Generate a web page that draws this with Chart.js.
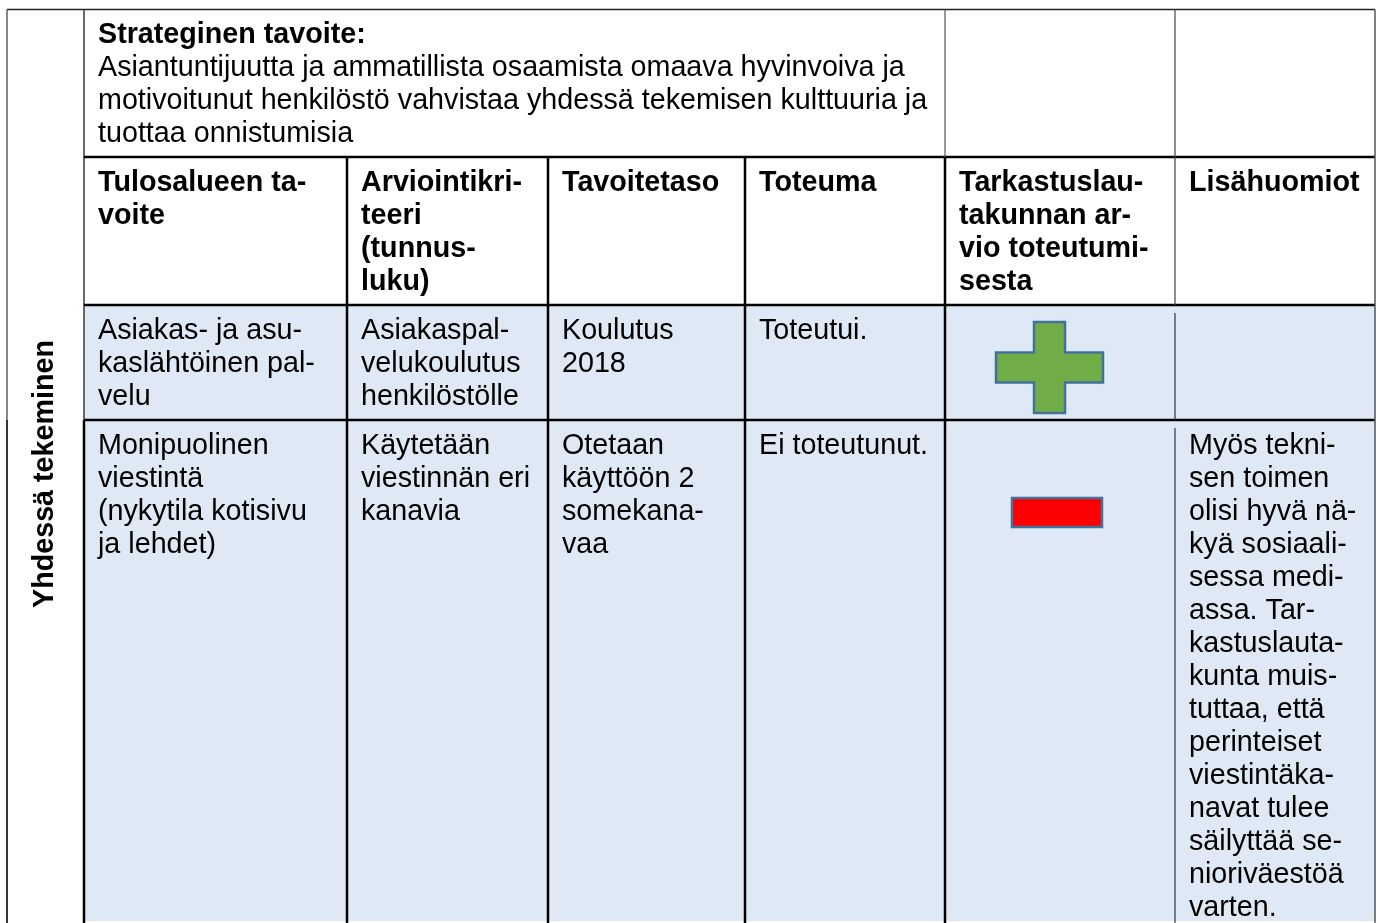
<!DOCTYPE html>
<html>
<head>
<meta charset="utf-8">
<script src="https://cdn.jsdelivr.net/npm/chart.js@4/dist/chart.umd.min.js"></script>
<style>
  html, body { margin: 0; padding: 0; background: #ffffff; }
  #c { display: block; }
</style>
</head>
<body>
<canvas id="c" width="1382" height="923"></canvas>
<script>
// ---------- DATA (text content of the table) ----------
const sideLabel = 'Yhdessä tekeminen';
const strategyHeading = 'Strateginen tavoite:';
const strategyLines = [
  'Asiantuntijuutta ja ammatillista osaamista omaava hyvinvoiva ja',
  'motivoitunut henkilöstö vahvistaa yhdessä tekemisen kulttuuria ja',
  'tuottaa onnistumisia'
];
const columnHeaders = [
  ['Tulosalueen ta-', 'voite'],
  ['Arviointikri-', 'teeri', '(tunnus-', 'luku)'],
  ['Tavoitetaso'],
  ['Toteuma'],
  ['Tarkastuslau-', 'takunnan ar-', 'vio toteutumi-', 'sesta'],
  ['Lisähuomiot']
];
const goals = [
  ['Asiakas- ja asu-', 'kaslähtöinen pal-', 'velu'],
  ['Monipuolinen', 'viestintä', '(nykytila kotisivu', 'ja lehdet)']
];
const criteria = [
  ['Asiakaspal-', 'velukoulutus', 'henkilöstölle'],
  ['Käytetään', 'viestinnän eri', 'kanavia']
];
const targets = [
  ['Koulutus', '2018'],
  ['Otetaan', 'käyttöön 2', 'somekana-', 'vaa']
];
const outcomes = [
  ['Toteutui.'],
  ['Ei toteutunut.']
];
const ratings = ['+', '-'];
const notes = [
  [],
  ['Myös tekni-', 'sen toimen', 'olisi hyvä nä-', 'kyä sosiaali-', 'sessa medi-', 'assa. Tar-',
   'kastuslauta-', 'kunta muis-', 'tuttaa, että', 'perinteiset', 'viestintäka-', 'navat tulee',
   'säilyttää se-', 'nioriväestöä', 'varten.']
];

// ---------- LAYOUT / STYLE ----------
const COLS = [7, 84, 347, 548, 745, 945, 1175, 1375];
const ROWS = [9.5, 157, 305, 420, 923];
const PAD_X = 14, BASE_OFF = 33.5, LINE_H = 33;
const FONT_FAMILY = '"Liberation Sans", Arial, sans-serif';
const FONT_SIZE = 28.7;
const FILL_BLUE = '#DEE9F5';
const PLUS_GEOM = { cx: 1049.5, cy: 367.5, hw: 53.5, hh: 45.5, aw: 15.5, ah: 15 };
const MINUS_GEOM = { cx: 1057, cy: 512.5, hw: 45, hh: 14.5 };

const tablePlugin = {
  id: 'tablePlugin',
  afterDraw(chart) {
    const ctx = chart.ctx;
    const sx = chart.scales.x, sy = chart.scales.y;
    const px = v => sx.getPixelForValue(v);
    const py = v => sy.getPixelForValue(v);

    ctx.save();
    ctx.fillStyle = FILL_BLUE;
    ctx.fillRect(px(COLS[1]), py(ROWS[2]), px(COLS[7]) - px(COLS[1]), py(921) - py(ROWS[2]));

    function lines(arr, col, row, bold) {
      ctx.font = (bold ? 'bold ' : '') + FONT_SIZE + 'px ' + FONT_FAMILY;
      ctx.fillStyle = '#000';
      ctx.textAlign = 'left';
      ctx.textBaseline = 'alphabetic';
      arr.forEach((t, i) => {
        ctx.fillText(t, px(COLS[col] + PAD_X), py(ROWS[row] + BASE_OFF + i * LINE_H));
      });
    }

    lines([strategyHeading], 1, 0, true);
    ctx.font = FONT_SIZE + 'px ' + FONT_FAMILY;
    strategyLines.forEach((t, i) => {
      ctx.fillText(t, px(COLS[1] + PAD_X), py(ROWS[0] + BASE_OFF + (i + 1) * LINE_H));
    });

    columnHeaders.forEach((h, i) => lines(h, i + 1, 1, true));

    [goals, criteria, targets, outcomes].forEach((colData, ci) => {
      colData.forEach((cell, ri) => lines(cell, ci + 1, ri + 2, false));
    });
    notes.forEach((cell, ri) => lines(cell, 6, ri + 2, false));

    ratings.forEach((r) => {
      ctx.lineWidth = 2.5;
      ctx.strokeStyle = '#41719C';
      if (r === '+') {
        const { cx, cy, hw, hh, aw, ah } = PLUS_GEOM;
        const pts = [
          [cx - aw, cy - hh], [cx + aw, cy - hh], [cx + aw, cy - ah], [cx + hw, cy - ah],
          [cx + hw, cy + ah], [cx + aw, cy + ah], [cx + aw, cy + hh], [cx - aw, cy + hh],
          [cx - aw, cy + ah], [cx - hw, cy + ah], [cx - hw, cy - ah], [cx - aw, cy - ah]
        ];
        ctx.beginPath();
        pts.forEach((p, i) => i ? ctx.lineTo(px(p[0]), py(p[1])) : ctx.moveTo(px(p[0]), py(p[1])));
        ctx.closePath();
        ctx.fillStyle = '#70AD47';
        ctx.fill();
        ctx.stroke();
      } else {
        const { cx, cy, hw, hh } = MINUS_GEOM;
        const x0 = px(cx - hw), y0 = py(cy - hh), w = px(cx + hw) - x0, h = py(cy + hh) - y0;
        ctx.fillStyle = '#FF0000';
        ctx.fillRect(x0, y0, w, h);
        ctx.strokeRect(x0, y0, w, h);
      }
    });

    ctx.save();
    ctx.translate(px(53), py(474));
    ctx.rotate(-Math.PI / 2);
    ctx.font = 'bold ' + FONT_SIZE + 'px ' + FONT_FAMILY;
    ctx.fillStyle = '#000';
    ctx.textAlign = 'center';
    ctx.textBaseline = 'alphabetic';
    ctx.fillText(sideLabel, 0, 0);
    ctx.restore();

    function seg(x1, y1, x2, y2, w, c) {
      ctx.beginPath();
      ctx.lineWidth = w;
      ctx.strokeStyle = c;
      ctx.moveTo(px(x1), py(y1));
      ctx.lineTo(px(x2), py(y2));
      ctx.stroke();
    }
    const BOTTOM = 923;
    seg(COLS[0], ROWS[0], COLS[7], ROWS[0], 1.6, '#222');
    seg(COLS[0], ROWS[0], COLS[0], 420, 1.4, '#555');
    seg(COLS[0], 420, COLS[0], BOTTOM, 1.6, '#000');
    seg(COLS[1], ROWS[0], COLS[1], 420, 1.6, '#444');
    seg(COLS[1], 420, COLS[1], BOTTOM, 2.5, '#000');
    [ROWS[1], ROWS[2], ROWS[3]].forEach(y => seg(COLS[1], y, COLS[7], y, 2.6, '#000'));
    [COLS[2], COLS[3], COLS[4]].forEach(x => seg(x, ROWS[1], x, BOTTOM, 2.5, '#000'));
    seg(COLS[5], ROWS[0], COLS[5], ROWS[1], 1.2, '#555');
    seg(COLS[5], ROWS[1], COLS[5], BOTTOM, 2.5, '#000');
    seg(COLS[6], ROWS[0], COLS[6], ROWS[2], 1.2, '#444');
    seg(COLS[6], ROWS[2] + 8, COLS[6], ROWS[3], 1.2, '#333');
    seg(COLS[6], ROWS[3] + 8, COLS[6], BOTTOM, 1.2, '#333');
    seg(COLS[7], ROWS[0], COLS[7], BOTTOM, 1.5, '#555');
    ctx.restore();
  }
};

new Chart(document.getElementById('c'), {
  type: 'scatter',
  data: { datasets: [{ data: [], pointRadius: 0 }] },
  options: {
    responsive: false,
    animation: false,
    layout: { padding: 0 },
    plugins: { legend: { display: false }, tooltip: { enabled: false } },
    scales: {
      x: { type: 'linear', min: 0, max: 1382, display: false },
      y: { type: 'linear', min: 0, max: 923, reverse: true, display: false }
    }
  },
  plugins: [tablePlugin]
});
</script>
</body>
</html>
